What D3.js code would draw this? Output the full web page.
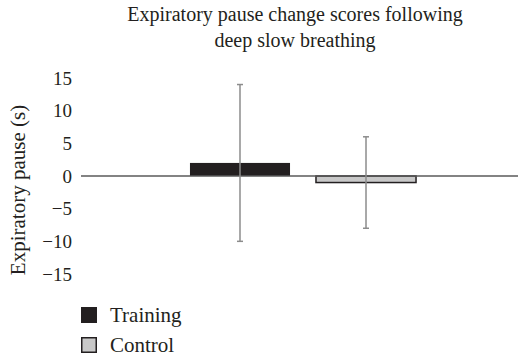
<!DOCTYPE html>
<html>
<head>
<meta charset="utf-8">
<script src="https://cdn.jsdelivr.net/npm/d3@7"></script>
<style>
  body { margin: 0; background: #fff; }
  text { font-family: "Liberation Serif", "DejaVu Serif", serif; fill: #231f20; }
</style>
</head>
<body>
<svg id="chart"></svg>
<script>
let groups = [""]
let series = ["Training", "Control"]
let means = [2, -1]
let errors = [12, 7]
let yTicks = [15, 10, 5, 0, -5, -10, -15]
let colors = ["#231f20", "#c8c8c8"]

let w = 519
let h = 357
let svg = d3.select("#chart").attr("width", w).attr("height", h)

let yScale = d3.scaleLinear()
               .domain([-15, 15])
               .range([274, 78])

let x0 = d3.scaleBand()
           .domain(groups)
           .range([81, 525])
           .paddingOuter(0.482)
           .paddingInner(0)

let x1 = d3.scaleBand()
           .domain(series)
           .range([0, x0.bandwidth()])
           .paddingInner(0.206)
           .paddingOuter(0)

let yAxis = d3.axisLeft(yScale)
              .tickValues(yTicks)
              .tickFormat((d) => d < 0 ? "\u2212" + Math.abs(d) : d)
              .tickSize(0)
              .tickPadding(0)

let yg = svg.append("g")
   .attr("transform", "translate(72, 0)")
   .call(yAxis)
yg.select(".domain").remove()
yg.selectAll("text")
  .style("font-size", "19px")
  .style("font-family", "Liberation Serif, serif")
  .attr("fill", "#231f20")

// title
let title = svg.append("text")
   .attr("x", 295)
   .attr("y", 21)
   .attr("text-anchor", "middle")
   .style("font-size", "20px")
title.append("tspan").attr("x", 295).text("Expiratory pause change scores following")
title.append("tspan").attr("x", 295).attr("dy", 26).text("deep slow breathing")

svg.append("text")
   .attr("transform", "rotate(-90)")
   .attr("x", -190)
   .attr("y", 25)
   .attr("text-anchor", "middle")
   .style("font-size", "21px")
   .text("Expiratory pause (s)")

let data = series.map((s, i) => ({ name: s, mean: means[i], err: errors[i], color: colors[i] }))

let gx = x0(groups[0])

svg.selectAll("rect.bar")
   .data(data)
   .enter()
   .append("rect")
   .attr("class", "bar")
   .attr("x", (d) => gx + x1(d.name))
   .attr("width", x1.bandwidth())
   .attr("y", (d) => yScale(Math.max(0, d.mean)))
   .attr("height", (d) => Math.abs(yScale(d.mean) - yScale(0)))
   .attr("fill", (d) => d.color)
   .attr("stroke", "#231f20")
   .attr("stroke-width", (d, i) => i == 0 ? 0 : 1.5)

// zero line
svg.append("line")
   .attr("x1", 81)
   .attr("x2", 518)
   .attr("y1", yScale(0))
   .attr("y2", yScale(0))
   .attr("stroke", "#5a5a5a")
   .attr("stroke-width", 1.5)

// error bars
let eb = svg.selectAll("g.err")
   .data(data)
   .enter()
   .append("g")
   .attr("class", "err")
   .attr("transform", (d) => `translate(${gx + x1(d.name) + x1.bandwidth() / 2}, 0)`)

eb.append("line")
  .attr("y1", (d) => yScale(d.mean + d.err))
  .attr("y2", (d) => yScale(d.mean - d.err))
  .attr("stroke", "#8c8c8c")
  .attr("stroke-width", 1.5)

eb.selectAll("line.cap")
  .data((d) => [d.mean + d.err, d.mean - d.err])
  .enter()
  .append("line")
  .attr("class", "cap")
  .attr("x1", -3)
  .attr("x2", 3)
  .attr("y1", (v) => yScale(v))
  .attr("y2", (v) => yScale(v))
  .attr("stroke", "#8c8c8c")
  .attr("stroke-width", 1.5)

// legend
let legend = svg.selectAll("g.legend")
   .data(data)
   .enter()
   .append("g")
   .attr("class", "legend")
   .attr("transform", (d, i) => `translate(81, ${307 + i * 30})`)

legend.append("rect")
      .attr("x", 0.75)
      .attr("y", 0.75)
      .attr("width", 14.5)
      .attr("height", 14.5)
      .attr("fill", (d) => d.color)
      .attr("stroke", "#231f20")
      .attr("stroke-width", 1.5)

legend.append("text")
      .attr("x", 29)
      .attr("y", 15)
      .style("font-size", "21px")
      .text((d) => d.name)
</script>
</body>
</html>
